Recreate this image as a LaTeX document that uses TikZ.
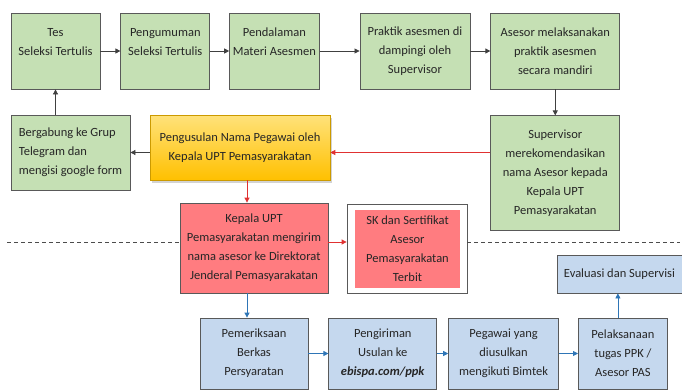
\documentclass[tikz,border=0pt]{standalone}
\usepackage{fontspec}
\setmainfont{Carlito}
\usepackage{xcolor}
\usetikzlibrary{arrows.meta, positioning, shadows}

\definecolor{boxgreen}{HTML}{C5E0B4}
\definecolor{boxblue}{HTML}{C5D8EE}
\definecolor{boxred}{HTML}{FF7C80}
\definecolor{yellowtop}{HTML}{FFE27A}
\definecolor{yellowbot}{HTML}{FFC000}
\definecolor{edgegray}{HTML}{595959}
\definecolor{arrred}{HTML}{E03131}
\definecolor{arrblue}{HTML}{2E75B6}

\tikzset{
  box/.style={draw=edgegray, line width=0.8pt, align=center, text=black!85},
  greenbox/.style={box, fill=boxgreen},
  toprow/.style={greenbox, minimum height=76pt},
  bluebox/.style={box, fill=boxblue, minimum height=71pt},
  redbox/.style={box, fill=boxred},
  yellowbox/.style={draw=yellowbot!80!black, line width=0.6pt, align=center, text=black!85,
    top color=yellowtop, bottom color=yellowbot,
    drop shadow={shadow xshift=2pt, shadow yshift=-2.5pt, opacity=0.35}},
  blackarr/.style={draw=black!75, line width=0.8pt, -{Triangle[length=5pt, width=5pt]}},
  redarr/.style={draw=arrred, line width=0.8pt, -{Triangle[length=5pt, width=5pt]}},
  bluearr/.style={draw=arrblue, line width=0.8pt, -{Triangle[length=5pt, width=5pt]}},
  divider/.style={draw=black!70, line width=0.8pt, dash pattern=on 4pt off 3pt}
}

\begin{document}
\begin{tikzpicture}[x=1pt, y=-1pt, font=\fontsize{12.5}{19}\selectfont]
  \useasboundingbox (0,0) rectangle (682,391);

  % top row
  \node[toprow, minimum width=89pt] (tes) at (55.5,51) {Tes\\Seleksi Tertulis\\~};
  \node[toprow, minimum width=89pt, right=20pt of tes] (pengumuman) {Pengumuman\\Seleksi Tertulis\\~};
  \node[toprow, minimum width=89pt, right=19pt of pengumuman] (pendalaman) {Pendalaman\\Materi Asesmen\\~};
  \node[toprow, minimum width=110pt, right=40pt of pendalaman] (praktik) {Praktik asesmen di\\dampingi oleh\\Supervisor};
  \node[toprow, minimum width=129pt, right=20pt of praktik] (mandiri) {Asesor melaksanakan\\praktik asesmen\\secara mandiri};
  \node[greenbox, minimum width=129pt, minimum height=115pt, below=26pt of mandiri] (rekomendasi)
    {Supervisor\\merekomendasikan\\nama Asesor kepada\\Kepala UPT\\Pemasyarakatan};

  % second row
  \node[yellowbox, minimum width=180pt, minimum height=65pt] (usulan) at (240,147.5)
    {Pengusulan Nama Pegawai oleh\\Kepala UPT Pemasyarakatan};
  \node[greenbox, minimum width=119pt, minimum height=75pt, align=left] (grup) at (70.5,152.5)
    {Bergabung ke Grup\\Telegram dan\\mengisi google form};

  % red boxes
  \node[redbox, minimum width=148pt, minimum height=90pt] (kepala) at (254,248)
    {Kepala UPT\\Pemasyarakatan mengirim\\nama asesor ke Direktorat\\Jenderal Pemasyarakatan};
  \node[draw=edgegray, line width=0.8pt, fill=white, minimum width=120pt, minimum height=89pt]
    (skframe) at (407,248.5) {};
  \node[fill=boxred, align=center, text=black!85, minimum width=105pt, minimum height=78pt] (sk) at (407.5,249)
    {SK dan Sertifikat\\Asesor\\Pemasyarakatan\\Terbit};

  % bottom row
  \node[bluebox, minimum width=108pt] (periksa) at (254,353.5) {Pemeriksaan\\Berkas\\Persyaratan};
  \node[bluebox, minimum width=108pt, right=20pt of periksa] (pengiriman)
    {Pengiriman\\Usulan ke\\\textbf{\textit{ebispa.com/ppk}}};
  \node[bluebox, minimum width=110pt, right=11pt of pengiriman] (bimtek) {Pegawai yang\\diusulkan\\mengikuti Bimtek};
  \node[bluebox, minimum width=89pt, right=19pt of bimtek] (pelaksanaan) {Pelaksanaan\\tugas PPK /\\Asesor PAS};
  \node[box, fill=boxblue, minimum width=125pt, minimum height=38pt] (evaluasi) at (619.5,274)
    {Evaluasi dan Supervisi};

  % dashed divider
  \coordinate (dashL) at (7,242);
  \coordinate (dashR) at (680,242);
  \draw[divider] (dashL) -- (dashL -| kepala.west);
  \draw[divider] (dashR -| skframe.east) -- (dashR);

  % connectors
  \foreach \a/\b in {tes/pengumuman, pengumuman/pendalaman, pendalaman/praktik, praktik/mandiri}
    \draw[blackarr] (\a) -- (\b);
  \draw[blackarr] (mandiri) -- (rekomendasi);
  \draw[redarr] (rekomendasi.west |- grup) -- (usulan.east |- grup);
  \draw[blackarr] (usulan.west |- grup) -- (grup.east);
  \draw[blackarr] (grup.north -| tes) -- (tes.south);
  \draw[redarr] ([xshift=-7pt]kepala.north |- usulan.south) -- ([xshift=-7pt]kepala.north);
  \draw[redarr] (kepala.east |- dashL) -- (skframe.west |- dashL);
  \draw[bluearr] ([xshift=-7pt]kepala.south) -- ([xshift=-7pt]periksa.north);
  \foreach \a/\b in {periksa/pengiriman, pengiriman/bimtek, bimtek/pelaksanaan}
    \draw[bluearr] (\a) -- (\b);
  \draw[bluearr] ([xshift=-5pt]pelaksanaan.north) -- ([xshift=-5pt]pelaksanaan.north |- evaluasi.south);
\end{tikzpicture}
\end{document}
